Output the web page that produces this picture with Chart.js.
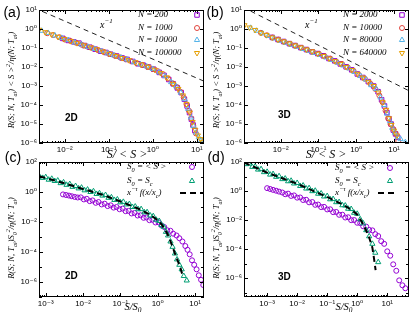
<!DOCTYPE html>
<html>
<head>
<meta charset="utf-8">
<title>Avalanche size distributions</title>
<script src="https://cdn.jsdelivr.net/npm/chart.js@4.4.1/dist/chart.umd.min.js"></script>
<style>
  body { margin: 0; width: 415px; height: 312px; background: #fff; position: relative; overflow: hidden; }
  canvas { position: absolute; }
</style>
</head>
<body>
<canvas id="panelA" width="210" height="160" style="left:0;top:0"></canvas>
<canvas id="panelB" width="210" height="160" style="left:205px;top:0"></canvas>
<canvas id="panelC" width="210" height="162" style="left:0;top:150px"></canvas>
<canvas id="panelD" width="210" height="162" style="left:205px;top:150px"></canvas>
<script>
// ---- (a) 2D, scaled by <S> ----
const aX200 = [0.009, 0.012, 0.016, 0.021, 0.028, 0.037, 0.049, 0.065, 0.086, 0.11, 0.15, 0.2, 0.26, 0.35, 0.46, 0.6, 0.8, 1.05, 1.4, 1.8, 2.3, 2.9, 3.6, 4.4, 5.2, 6.0, 6.8, 7.5, 8.2, 9.0];
const aY200 = [0.32, 0.25, 0.21, 0.18, 0.135, 0.11, 0.087, 0.068, 0.058, 0.047, 0.038, 0.03, 0.025, 0.0195, 0.0148, 0.0126, 0.01, 0.0076, 0.0052, 0.0036, 0.0022, 0.0013, 7.9e-4, 4.5e-4, 2e-4, 8.9e-5, 4e-5, 1.8e-5, 8.9e-6, 4.5e-6];
const aX1000 = [0.004, 0.0055, 0.0075, 0.01, 0.0135, 0.018, 0.024, 0.032, 0.043, 0.057, 0.076, 0.1, 0.135, 0.18, 0.24, 0.32, 0.43, 0.57, 0.76, 1.0, 1.3, 1.7, 2.2, 2.8, 3.5, 4.2, 5.0, 5.8, 6.6, 7.4, 8.3, 9.5];
const aY1000 = [0.6, 0.48, 0.37, 0.28, 0.235, 0.19, 0.15, 0.12, 0.098, 0.078, 0.063, 0.05, 0.04, 0.032, 0.026, 0.0205, 0.0162, 0.0129, 0.0102, 0.0079, 0.006, 0.0042, 0.0025, 0.0014, 8.9e-4, 5e-4, 2.5e-4, 1.1e-4, 5e-5, 2e-5, 7.9e-6, 3.2e-6];
const aX10000 = [0.003, 0.0042, 0.006, 0.0085, 0.012, 0.017, 0.024, 0.034, 0.048, 0.068, 0.095, 0.13, 0.19, 0.26, 0.37, 0.52, 0.72, 1.0, 1.4, 1.9, 2.6, 3.4, 4.3, 5.3, 6.3, 7.3, 8.4, 9.6, 11, 12.5];
const aY10000 = [0.8, 0.62, 0.45, 0.34, 0.26, 0.195, 0.15, 0.115, 0.089, 0.068, 0.052, 0.041, 0.031, 0.0245, 0.018, 0.0138, 0.0107, 0.0079, 0.0052, 0.0033, 0.0016, 9.5e-4, 4.5e-4, 2e-4, 6.3e-5, 2.2e-5, 7.9e-6, 3.5e-6, 2e-6, 1.4e-6];
const aX100000 = [0.0026, 0.0036, 0.005, 0.007, 0.0098, 0.0137, 0.019, 0.027, 0.038, 0.053, 0.074, 0.104, 0.145, 0.2, 0.28, 0.4, 0.55, 0.78, 1.1, 1.5, 2.1, 2.9, 3.8, 4.8, 5.8, 6.9, 8.0, 9.2, 10.5, 12, 13.5];
const aY100000 = [0.91, 0.68, 0.52, 0.39, 0.3, 0.23, 0.18, 0.138, 0.107, 0.085, 0.065, 0.049, 0.038, 0.0295, 0.023, 0.0174, 0.0135, 0.0102, 0.0072, 0.0048, 0.0028, 0.0013, 7e-4, 3.2e-4, 1.1e-4, 4e-5, 1.26e-5, 5e-6, 2.5e-6, 1.6e-6, 1.1e-6];
const aGuideX = [0.0031, 14.4];
const aGuideY = [8.4, 0.0018];

// ---- (b) 3D, scaled by <S> ----
const bX2000 = [0.006, 0.0085, 0.012, 0.017, 0.024, 0.034, 0.048, 0.068, 0.096, 0.135, 0.19, 0.27, 0.38, 0.54, 0.76, 1.07, 1.5, 2.1, 2.9, 3.8, 4.7, 5.6, 6.5, 7.4, 8.4, 9.6, 11, 12.5];
const bY2000 = [0.36, 0.28, 0.22, 0.17, 0.135, 0.105, 0.083, 0.063, 0.051, 0.039, 0.028, 0.021, 0.0145, 0.0102, 0.0071, 0.0043, 0.0028, 0.0017, 0.001, 5e-4, 1.9e-4, 8.9e-5, 4e-5, 1.9e-5, 1e-5, 4.8e-6, 3e-6, 2e-6];
const bX10000 = [0.003, 0.0043, 0.0061, 0.0087, 0.0124, 0.0177, 0.025, 0.036, 0.051, 0.072, 0.103, 0.146, 0.21, 0.3, 0.42, 0.6, 0.85, 1.2, 1.7, 2.4, 3.2, 4.1, 5.0, 6.0, 7.0, 8.1, 9.4, 11, 13];
const bY10000 = [0.63, 0.47, 0.355, 0.275, 0.21, 0.166, 0.129, 0.1, 0.079, 0.062, 0.049, 0.037, 0.027, 0.019, 0.0145, 0.0095, 0.0063, 0.0037, 0.0024, 0.0013, 7e-4, 3.2e-4, 1.4e-4, 5e-5, 2e-5, 1e-5, 5.6e-6, 3.2e-6, 1.26e-6];
const bX80000 = [0.0016, 0.0023, 0.0033, 0.0047, 0.0067, 0.0095, 0.0135, 0.019, 0.027, 0.039, 0.055, 0.078, 0.11, 0.158, 0.225, 0.32, 0.45, 0.64, 0.9, 1.3, 1.8, 2.5, 3.4, 4.4, 5.5, 6.6, 7.8, 9.0, 10.5, 12.5, 15, 20];
const bY80000 = [1.15, 0.81, 0.59, 0.43, 0.32, 0.24, 0.19, 0.148, 0.117, 0.089, 0.071, 0.055, 0.043, 0.032, 0.0234, 0.017, 0.012, 0.0085, 0.0055, 0.0034, 0.0022, 0.0011, 7e-4, 2.5e-4, 1e-4, 3.5e-5, 1.4e-5, 6.3e-6, 3.5e-6, 2e-6, 1.6e-6, 1.1e-6];
const bX640000 = [0.0011, 0.0015, 0.0021, 0.003, 0.0042, 0.006, 0.0085, 0.012, 0.017, 0.024, 0.034, 0.048, 0.068, 0.096, 0.136, 0.19, 0.27, 0.38, 0.54, 0.76, 1.08, 1.5, 2.1, 2.9, 3.9, 5.0, 6.2, 7.4, 8.6, 10, 12];
const bY640000 = [1.58, 1.2, 0.89, 0.63, 0.48, 0.355, 0.275, 0.22, 0.174, 0.135, 0.107, 0.083, 0.066, 0.05, 0.038, 0.028, 0.0204, 0.0145, 0.01, 0.0069, 0.0044, 0.0028, 0.00166, 0.001, 4.5e-4, 1.4e-4, 5.6e-5, 2e-5, 8.9e-6, 4.5e-6, 2.5e-6];
const bGuideX = [0.0016, 25];
const bGuideY = [8.75, 5.6e-4];

// ---- (c) 2D, S0 = <S> and S0 = Sc ----
const cXmean = [2.9e-3, 3.5e-3, 4.2e-3, 5.0e-3, 6.0e-3, 7.2e-3, 8.7e-3, 0.0105, 0.0126, 0.0151, 0.018, 0.0219, 0.026, 0.0316, 0.038, 0.0457, 0.055, 0.066, 0.079, 0.095, 0.115, 0.138, 0.166, 0.2, 0.24, 0.29, 0.35, 0.42, 0.5, 0.6, 0.72, 0.87, 1.05, 1.26, 1.5, 1.8, 2.2, 2.6, 3.2, 3.8, 4.6, 5.5, 6.3, 7.2, 8.3, 9.5, 11, 12.6, 14.5, 16.6];
const cYmean = [0.69, 0.63, 0.575, 0.52, 0.47, 0.43, 0.44, 0.32, 0.35, 0.245, 0.275, 0.19, 0.214, 0.148, 0.166, 0.115, 0.129, 0.091, 0.1, 0.071, 0.078, 0.0525, 0.055, 0.037, 0.04, 0.027, 0.028, 0.019, 0.02, 0.0132, 0.0141, 0.0093, 0.0095, 0.0059, 0.0046, 0.0028, 0.0026, 0.00166, 0.00126, 8.3e-4, 5e-4, 2.5e-4, 1.4e-4, 7e-5, 2.8e-5, 1.4e-5, 7e-6, 2.8e-6, 1.4e-6, 6.3e-7];
const cXsc = [6.8e-4, 8.3e-4, 1.0e-3, 1.2e-3, 1.45e-3, 1.74e-3, 2.1e-3, 2.5e-3, 3.0e-3, 3.6e-3, 4.4e-3, 5.2e-3, 6.3e-3, 7.6e-3, 9.1e-3, 0.011, 0.0132, 0.0158, 0.019, 0.023, 0.0275, 0.033, 0.04, 0.048, 0.0575, 0.069, 0.083, 0.1, 0.12, 0.145, 0.174, 0.21, 0.25, 0.3, 0.36, 0.44, 0.52, 0.63, 0.76, 0.91, 1.1, 1.26, 1.45, 1.66, 1.9, 2.2, 2.5, 2.9, 3.3, 3.8, 4.4, 5.0, 6.0];
const cYsc = [11, 8.7, 9.8, 6.6, 7.6, 5.4, 5.8, 3.9, 4.4, 3.0, 3.4, 2.2, 2.5, 1.74, 1.95, 1.29, 1.45, 1.0, 1.12, 0.74, 0.83, 0.575, 0.63, 0.41, 0.44, 0.295, 0.32, 0.204, 0.22, 0.148, 0.158, 0.1, 0.107, 0.071, 0.072, 0.044, 0.045, 0.027, 0.0245, 0.0141, 0.0117, 0.0063, 0.0048, 0.0022, 0.00126, 5e-4, 2.2e-4, 7.9e-5, 3.2e-5, 1.4e-5, 7e-6, 2.5e-6, 1.26e-6];
const cFitX = [6.8e-4, 3.2e-3, 0.01, 0.0316, 0.1, 0.316, 0.63, 1, 1.26, 1.58, 2.0, 2.5, 3.16, 4.0, 4.7];
const cFitY = [11.2, 3.8, 1.58, 0.68, 0.234, 0.074, 0.03, 0.0132, 0.0071, 0.00316, 0.001, 2.2e-4, 4.5e-5, 1e-5, 2.5e-6];

// ---- (d) 3D, S0 = <S> and S0 = Sc ----
const dXmean = [1e-3, 1.26e-3, 1.58e-3, 2e-3, 2.5e-3, 3.2e-3, 4e-3, 5e-3, 6.3e-3, 7.9e-3, 0.01, 0.0126, 0.0158, 0.02, 0.025, 0.032, 0.04, 0.05, 0.063, 0.079, 0.1, 0.126, 0.158, 0.2, 0.25, 0.32, 0.4, 0.5, 0.63, 0.79, 1, 1.26, 1.58, 2, 2.5, 3.2, 4, 5, 6.3, 7.9, 10, 12.6, 15.8, 20, 25, 32, 40];
const dYmean = [1.58, 1.38, 1.2, 1.05, 0.91, 0.79, 0.6, 0.66, 0.46, 0.5, 0.35, 0.36, 0.24, 0.25, 0.166, 0.174, 0.112, 0.117, 0.078, 0.081, 0.054, 0.055, 0.035, 0.036, 0.023, 0.0234, 0.015, 0.0155, 0.0098, 0.01, 0.0065, 0.0062, 0.0037, 0.0035, 0.0021, 0.00195, 0.00107, 7.9e-4, 3.5e-4, 2.3e-4, 7e-5, 3.5e-5, 8.9e-6, 3.2e-6, 7e-7, 3.2e-7, 2e-7];
const dXsc = [1.7e-4, 2.0e-4, 2.5e-4, 3.2e-4, 4.0e-4, 5.0e-4, 6.3e-4, 7.9e-4, 1e-3, 1.26e-3, 1.58e-3, 2e-3, 2.5e-3, 3.2e-3, 4e-3, 5e-3, 6.3e-3, 7.9e-3, 0.01, 0.0126, 0.0158, 0.02, 0.025, 0.032, 0.04, 0.05, 0.063, 0.079, 0.1, 0.126, 0.158, 0.2, 0.25, 0.32, 0.4, 0.5, 0.63, 0.79, 1, 1.26, 1.58, 2, 2.5, 3.2, 4, 5];
const dYsc = [95, 71, 76, 46, 49, 30, 32, 20, 21, 13.5, 14.8, 9.5, 10.5, 6.6, 7.2, 4.7, 5.1, 3.3, 3.6, 2.24, 2.4, 1.48, 1.58, 0.98, 1.05, 0.65, 0.68, 0.42, 0.45, 0.27, 0.28, 0.17, 0.174, 0.105, 0.1, 0.06, 0.0575, 0.0316, 0.027, 0.0112, 0.0059, 0.002, 7.6e-4, 2.3e-4, 5.6e-5, 1.26e-5];
const dFitX = [1.7e-4, 1e-3, 0.01, 0.1, 0.32, 0.63, 1, 1.58, 2, 2.5, 3.2, 3.6, 4.1];
const dFitY = [93, 18.6, 3.16, 0.39, 0.12, 0.052, 0.024, 0.0052, 0.0018, 6.3e-4, 1.26e-4, 2.5e-5, 3.5e-6];

// tick labels (powers of ten)
const xTicksAB = [1e-2, 1e-1, 1, 10];
const yTicksAB = [1e-6, 1e-5, 1e-4, 1e-3, 1e-2, 1e-1, 1, 10];
const xTicksCD = [1e-3, 1e-2, 1e-1, 1, 10];
const yTicksCD = [1e-6, 1e-4, 1e-2, 1, 100];

const PURPLE = '#9400d3', RED = '#e0443c', BLUE = '#56b4e9', ORANGE = '#e69f00', GREEN = '#009e73';
const SERIF = '"Liberation Serif", "DejaVu Serif", serif';
const SANS = '"Liberation Sans", "DejaVu Sans", sans-serif';

const SUP = { '-': '\u207b', '0': '\u2070', '1': '\u00b9', '2': '\u00b2', '3': '\u00b3', '4': '\u2074', '5': '\u2075', '6': '\u2076', '7': '\u2077', '8': '\u2078', '9': '\u2079' };
function pow10(v) {
  return '10' + String(Math.round(Math.log10(v))).split('').map(c => SUP[c]).join('');
}
function pts(xs, ys) {
  return xs.map((x, i) => ({ x: x, y: ys[i] }));
}
function marks(label, xs, ys, color, style, radius, rotation) {
  return {
    label: label, data: pts(xs, ys), showLine: false,
    borderColor: color, pointBorderColor: color, pointBackgroundColor: 'rgba(0,0,0,0)',
    pointBorderWidth: 1, pointStyle: style, pointRadius: radius, pointRotation: rotation || 0
  };
}
function dashed(label, xs, ys, width, dash, color) {
  return {
    label: label, data: pts(xs, ys), showLine: true, borderColor: color,
    borderWidth: width, borderDash: dash, pointRadius: 0, fill: false, tension: 0
  };
}

// text with sub/superscripts: parts = [[text, 0 | 1 (sup) | -1 (sub)], ...]
function rich(ctx, parts, x, y, size, align) {
  const fontFor = m => 'italic ' + (m ? size * 0.7 : size) + 'px ' + SERIF;
  let w = 0;
  parts.forEach(p => { ctx.font = fontFor(p[1]); w += ctx.measureText(p[0]).width; });
  let cx = align === 'center' ? x - w / 2 : align === 'right' ? x - w : x;
  ctx.textAlign = 'left';
  ctx.textBaseline = 'middle';
  parts.forEach(p => {
    ctx.font = fontFor(p[1]);
    ctx.fillText(p[0], cx, y - p[1] * size * 0.38);
    cx += ctx.measureText(p[0]).width;
  });
}

function drawMark(ctx, ds, x, y) {
  const r = ds.pointRadius;
  ctx.beginPath();
  if (ds.pointStyle === 'rect') {
    const s = r * Math.SQRT1_2;
    ctx.rect(x - s, y - s, 2 * s, 2 * s);
  } else if (ds.pointStyle === 'circle') {
    ctx.arc(x, y, r, 0, Math.PI * 2);
  } else {
    let rad = (ds.pointRotation || 0) * Math.PI / 180;
    ctx.moveTo(x + Math.sin(rad) * r, y - Math.cos(rad) * r);
    rad += Math.PI * 2 / 3;
    ctx.lineTo(x + Math.sin(rad) * r, y - Math.cos(rad) * r);
    rad += Math.PI * 2 / 3;
    ctx.lineTo(x + Math.sin(rad) * r, y - Math.cos(rad) * r);
    ctx.closePath();
  }
  ctx.strokeStyle = ds.pointBorderColor;
  ctx.lineWidth = 1;
  ctx.stroke();
}

function logTicks(ctx, scale, a, horizontal, majors, withMinor) {
  const lo = Math.floor(Math.log10(scale.min)), hi = Math.ceil(Math.log10(scale.max));
  ctx.beginPath();
  for (let e = lo; e <= hi; e++) {
    for (let k = 1; k < 10; k++) {
      if (k > 1 && !withMinor) continue;
      const v = k * Math.pow(10, e);
      if (v < scale.min || v > scale.max) continue;
      const major = k === 1 && majors.some(m => Math.abs(m - v) / v < 1e-6);
      const len = major ? 4 : (k === 1 ? 3 : 2);
      const p = Math.round(scale.getPixelForValue(v)) + 0.5;
      if (horizontal) {
        ctx.moveTo(p, a.bottom); ctx.lineTo(p, a.bottom - len);
        ctx.moveTo(p, a.top); ctx.lineTo(p, a.top + len);
      } else {
        ctx.moveTo(a.left, p); ctx.lineTo(a.left + len, p);
        ctx.moveTo(a.right, p); ctx.lineTo(a.right - len, p);
      }
    }
  }
  ctx.stroke();
}

const panelDeco = {
  id: 'panelDeco',
  afterDatasetsDraw(chart, args, o) {
    const ctx = chart.ctx, a = chart.chartArea;
    ctx.save();
    ctx.strokeStyle = '#000';
    ctx.lineWidth = 1;
    logTicks(ctx, chart.scales.x, a, true, o.xMajors, true);
    logTicks(ctx, chart.scales.y, a, false, o.yMajors, false);
    ctx.strokeRect(Math.round(a.left) + 0.5, Math.round(a.top) + 0.5,
      Math.round(a.right - a.left) - 1, Math.round(a.bottom - a.top) - 1);

    ctx.fillStyle = '#000';
    ctx.font = '14px ' + SANS;
    ctx.textAlign = 'center';
    ctx.textBaseline = 'middle';
    ctx.fillText(o.letter, o.letterX, o.letterY);
    ctx.font = 'bold 10px ' + SANS;
    ctx.textAlign = 'left';
    ctx.fillText(o.dim, o.dimX, o.dimY);

    rich(ctx, o.xTitle, o.xTitleX, o.xTitleY, o.xTitleSize, 'center');
    ctx.save();
    ctx.translate(o.yTitleX, o.yTitleY);
    ctx.rotate(-Math.PI / 2);
    rich(ctx, o.yTitle, 0, 0, 8.5, 'center');
    ctx.restore();
    (o.notes || []).forEach(n => rich(ctx, n.parts, n.x, n.y, n.size, 'left'));

    const lg = o.legend;
    lg.rows.forEach((row, i) => {
      const ds = chart.data.datasets[row.ds];
      const y = lg.ys[i];
      ctx.fillStyle = '#000';
      rich(ctx, row.parts, lg.textX, y, 9, 'left');
      if (ds.showLine) {
        ctx.save();
        ctx.setLineDash(ds.borderDash);
        ctx.lineWidth = ds.borderWidth;
        ctx.strokeStyle = ds.borderColor;
        ctx.beginPath();
        ctx.moveTo(lg.lineX0, y);
        ctx.lineTo(lg.lineX1, y);
        ctx.stroke();
        ctx.restore();
      } else {
        drawMark(ctx, ds, lg.symX, y);
      }
    });
    ctx.restore();
  }
};

function logAxis(min, max, ticks, fit) {
  return {
    type: 'logarithmic', min: min, max: max,
    grid: { display: false, drawTicks: false },
    border: { display: false },
    afterBuildTicks: s => { s.ticks = ticks.map(v => ({ value: v })); },
    afterFit: fit,
    ticks: {
      autoSkip: false, maxRotation: 0, minRotation: 0, padding: 2, color: '#000',
      font: { family: SANS, size: 8 },
      callback: v => pow10(v)
    }
  };
}

function makePanel(id, datasets, xr, yr, xTicks, yTicks, topPad, bottomH, deco) {
  datasets.forEach((d, i) => { d.order = datasets.length - i; });
  deco.xMajors = xTicks;
  deco.yMajors = yTicks;
  return new Chart(document.getElementById(id), {
    type: 'scatter',
    data: { datasets: datasets },
    options: {
      responsive: false,
      animation: false,
      events: [],
      layout: { padding: { top: topPad, right: 6, left: 0, bottom: 0 } },
      scales: {
        x: logAxis(xr[0], xr[1], xTicks, s => { s.height = bottomH; }),
        y: logAxis(yr[0], yr[1], yTicks, s => { s.width = 39; })
      },
      plugins: { legend: { display: false }, tooltip: { enabled: false }, panelDeco: deco }
    },
    plugins: [panelDeco]
  });
}

const yTitleAB = [['R(S; N, T', 0], ['ai', -1], [') < S >', 0], ['2', 1], ['/\u03b7(N; T', 0], ['ai', -1], [')', 0]];
const yTitleCD = [['R(S; N, T', 0], ['ai', -1], [')S', 0], ['0', -1], ['2', 1], ['/\u03b7(N; T', 0], ['ai', -1], [')', 0]];
const xTitleAB = [['S/ < S >', 0]];
const xTitleCD = [['S/S', 0], ['0', -1]];
const powerNote = { parts: [['x', 0], ['\u22121', 1]], x: 100, y: 25, size: 10 };
const legendCD = [
  { ds: 0, parts: [['S', 0], ['0', -1], [' = < S >', 0]] },
  { ds: 1, parts: [['S', 0], ['0', -1], [' = S', 0], ['c', -1]] },
  { ds: 2, parts: [['x', 0], ['\u2212\u03c4', 1], [' f(x/x', 0], ['c', -1], [')', 0]] }
];

makePanel('panelA', [
  marks('N = 200', aX200, aY200, PURPLE, 'rect', 3.2),
  marks('N = 1000', aX1000, aY1000, RED, 'circle', 2.5),
  marks('N = 10000', aX10000, aY10000, BLUE, 'triangle', 3),
  marks('N = 100000', aX100000, aY100000, ORANGE, 'triangle', 3, 180),
  dashed('x^-1', aGuideX, aGuideY, 1, [5, 4], '#222')
], [0.0026, 14.5], [1e-6, 10], xTicksAB, yTicksAB, 10, 17, {
  letter: '(a)', letterX: 12, letterY: 13, dim: '2D', dimX: 65, dimY: 118,
  xTitle: xTitleAB, xTitleX: 127, xTitleY: 155, xTitleSize: 12,
  yTitle: yTitleAB, yTitleX: 12, yTitleY: 80,
  notes: [powerNote],
  legend: { textX: 138, ys: [15, 28, 40, 53], symX: 197, rows: [
    { ds: 0, parts: [['N = 200', 0]] }, { ds: 1, parts: [['N = 1000', 0]] },
    { ds: 2, parts: [['N = 10000', 0]] }, { ds: 3, parts: [['N = 100000', 0]] }] }
});

makePanel('panelB', [
  marks('N = 2000', bX2000, bY2000, PURPLE, 'rect', 3.2),
  marks('N = 10000', bX10000, bY10000, RED, 'circle', 2.5),
  marks('N = 80000', bX80000, bY80000, BLUE, 'triangle', 3),
  marks('N = 640000', bX640000, bY640000, ORANGE, 'triangle', 3, 180),
  dashed('x^-1', bGuideX, bGuideY, 1, [5, 4], '#222')
], [0.00107, 25], [1e-6, 10], xTicksAB, yTicksAB, 10, 17, {
  letter: '(b)', letterX: 10, letterY: 13, dim: '3D', dimX: 73, dimY: 115,
  xTitle: xTitleAB, xTitleX: 121, xTitleY: 155, xTitleSize: 12,
  yTitle: yTitleAB, yTitleX: 12, yTitleY: 80,
  notes: [powerNote],
  legend: { textX: 138, ys: [15, 28, 40, 53], symX: 197, rows: [
    { ds: 0, parts: [['N = 2000', 0]] }, { ds: 1, parts: [['N = 10000', 0]] },
    { ds: 2, parts: [['N = 80000', 0]] }, { ds: 3, parts: [['N = 640000', 0]] }] }
});

makePanel('panelC', [
  marks('S0 = <S>', cXmean, cYmean, PURPLE, 'circle', 2.5),
  marks('S0 = Sc', cXsc, cYsc, GREEN, 'triangle', 3),
  dashed('fit', cFitX, cFitY, 2, [6, 4], '#000')
], [6.6e-4, 17.4], [1e-7, 100], xTicksCD, yTicksCD, 12, 15, {
  letter: '(c)', letterX: 13, letterY: 8, dim: '2D', dimX: 65, dimY: 126,
  xTitle: xTitleCD, xTitleX: 133, xTitleY: 157, xTitleSize: 10.5,
  yTitle: yTitleCD, yTitleX: 12, yTitleY: 88,
  legend: { textX: 127, ys: [17, 31, 43], symX: 192, lineX0: 180, lineX1: 203, rows: legendCD }
});

makePanel('panelD', [
  marks('S0 = <S>', dXmean, dYmean, PURPLE, 'circle', 2.5),
  marks('S0 = Sc', dXsc, dYsc, GREEN, 'triangle', 3),
  dashed('fit', dFitX, dFitY, 2, [6, 4], '#000')
], [1.7e-4, 53], [5e-8, 100], xTicksCD, yTicksCD, 12, 15, {
  letter: '(d)', letterX: 11, letterY: 8, dim: '3D', dimX: 73, dimY: 127,
  xTitle: xTitleCD, xTitleX: 139, xTitleY: 157, xTitleSize: 10.5,
  yTitle: yTitleCD, yTitleX: 12, yTitleY: 88,
  legend: { textX: 130, ys: [18, 31, 43], symX: 185, lineX0: 173, lineX1: 192, rows: legendCD }
});
</script>
</body>
</html>
